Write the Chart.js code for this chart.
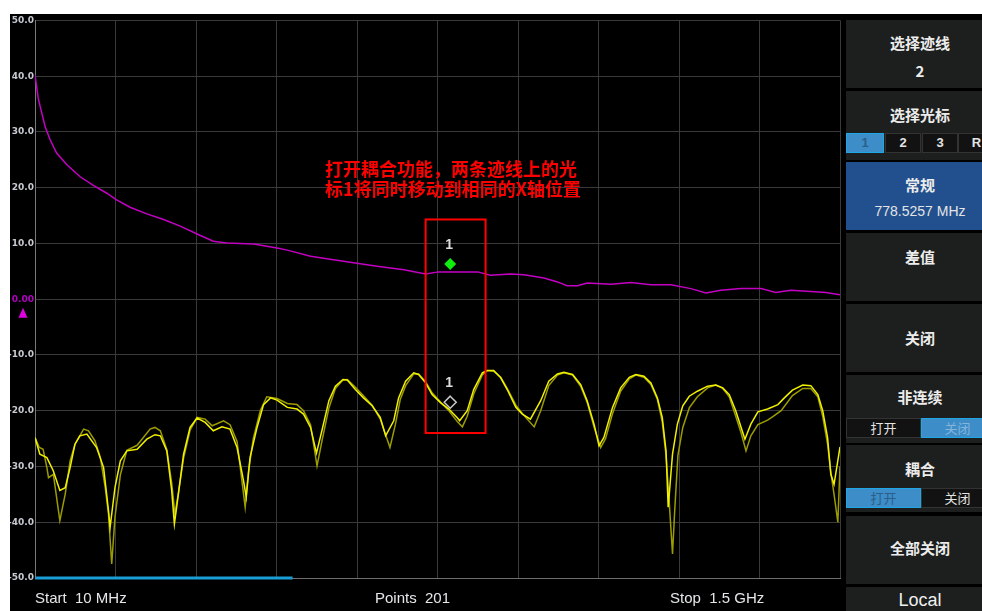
<!DOCTYPE html>
<html><head><meta charset="utf-8">
<script src="https://cdn.jsdelivr.net/npm/chart.js@4"></script>
<style>
html,body{margin:0;padding:0;background:#fff;width:982px;height:611px;overflow:hidden;font-family:"Liberation Sans",Arial,sans-serif;}
#scr{position:absolute;left:10px;top:14px;width:972px;height:597px;background:#000;overflow:hidden;}
#wrap{position:absolute;left:0;top:0;width:835px;height:597px;}
.bot{position:absolute;top:575px;height:20px;line-height:20px;color:#e4e6e8;font:15px "Liberation Sans",Arial,sans-serif;white-space:pre;}
#panel{position:absolute;left:836px;top:0;width:148px;height:597px;background:#000;}
.b{position:absolute;left:0;width:148px;background:#1c1f1e;}
.b.blue{background:#22508e;}
.t{position:absolute;left:0;width:148px;text-align:center;color:#ececec;font:bold 15px "Noto Sans CJK SC",sans-serif;line-height:20px;height:20px;}
.v{font:14px "Liberation Sans",Arial,sans-serif;font-weight:normal;color:#e4e4e4;}
.tab{position:absolute;box-sizing:border-box;height:20px;border:1px solid #333;background:#121212;color:#e4e4e4;font:13px "Noto Sans CJK SC",sans-serif;line-height:18px;text-align:center;}
.tab.num{font:bold 13px "Liberation Sans",Arial,sans-serif;line-height:18px;}
.tab.on{background:#3d8dc8;border-color:#1fa6e6;color:#2b5f8a;}
</style></head>
<body>
<div id="scr">
  <div id="wrap"><canvas id="c" width="835" height="597"></canvas></div>
  <div class="bot" id="bStart" style="left:25px"></div>
  <div class="bot" id="bPts" style="left:365px"></div>
  <div class="bot" id="bStop" style="left:660px"></div>
  <div id="panel">
    <div class="b" style="top:6px;height:68px">
      <div class="t" style="top:13px">选择迹线</div>
      <div class="t" style="top:41px">2</div>
    </div>
    <div class="b" style="top:77px;height:69px">
      <div class="t" style="top:14px">选择光标</div>
      <div class="tab num on" style="left:0;top:42px;width:38px">1</div>
      <div class="tab num" style="left:39px;top:42px;width:36px">2</div>
      <div class="tab num" style="left:76px;top:42px;width:36px">3</div>
      <div class="tab num" style="left:112px;top:42px;width:37px">R</div>
    </div>
    <div class="b blue" style="top:148px;height:68px">
      <div class="t" style="top:13px">常规</div>
      <div class="t v" style="top:41px" id="mkFreq"></div>
    </div>
    <div class="b" style="top:219px;height:68px">
      <div class="t" style="top:14px">差值</div>
    </div>
    <div class="b" style="top:290px;height:68px">
      <div class="t" style="top:24px">关闭</div>
    </div>
    <div class="b" style="top:361px;height:68px">
      <div class="t" style="top:12px">非连续</div>
      <div class="tab" style="left:0;top:43px;width:75px">打开</div>
      <div class="tab on" style="left:75px;top:43px;width:73px;color:#86b4da">关闭</div>
    </div>
    <div class="b" style="top:431px;height:67px">
      <div class="t" style="top:14px">耦合</div>
      <div class="tab on" style="left:0;top:43px;width:75px">打开</div>
      <div class="tab" style="left:75px;top:43px;width:73px">关闭</div>
    </div>
    <div class="b" style="top:502px;height:68px">
      <div class="t" style="top:22px">全部关闭</div>
    </div>
    <div class="b" style="top:573px;height:24px">
      <div class="t" style="top:3px;font:18px 'Liberation Sans',Arial,sans-serif;color:#f0f0f0">Local</div>
    </div>
  </div>
</div>
<script>
// ---- data ----
const startMHz = 10;
const stopMHz = 1500;
const sweepPoints = 201;
const sweptPoints = 64;
const refLevel = 0;
const yTickValues = [50, 40, 30, 20, 10, 0, -10, -20, -30, -40, -50];

// trace 1 (magenta)
const trc1Freq = [10,16,22,29,38,50,69,93,118,143,161,186,217,248,279,310,340,365,415,458,477,520,581,643,693,733,757,829,853,890,915,952,977,995,1014,1032,1076,1113,1150,1187,1224,1252,1279,1317,1354,1381,1409,1446,1474,1500];
const trc1Val  = [40.2,36.0,33.6,30.9,28.6,26.2,24.1,22.0,20.4,19.0,17.8,16.5,15.3,14.3,13.1,11.7,10.4,10.1,9.9,9.2,8.8,7.7,6.8,5.9,5.3,4.5,4.9,4.9,4.3,4.5,4.4,3.8,3.1,2.4,2.4,2.9,2.7,3.0,2.6,2.6,1.9,1.1,1.6,1.9,1.9,1.2,1.6,1.4,1.2,0.8];

// trace 2 (yellow, live)
const trc2Freq = [10,19,32,44,56,66,75,84,93,106,124,137,146,149,158,168,180,199,217,232,242,254,263,268,273,285,297,310,325,340,356,371,384,396,401,408,421,433,446,458,477,495,507,520,531,541,554,566,580,588,603,618,634,649,659,674,683,696,711,720,733,745,761,776,792,796,810,822,838,847,859,872,884,900,912,927,946,961,977,989,1005,1020,1032,1045,1054,1063,1079,1094,1110,1122,1137,1150,1162,1171,1178,1182,1190,1199,1209,1221,1236,1255,1270,1283,1295,1307,1317,1324,1335,1348,1366,1385,1397,1412,1431,1446,1459,1468,1477,1483,1489,1500];
const trc2Val  = [-24.8,-27.8,-28.4,-30.8,-34.3,-33.8,-30.2,-26.0,-24.5,-24.2,-26.6,-30.2,-37.9,-40.9,-33.8,-29.0,-27.2,-26.9,-25.1,-24.3,-24.5,-27.2,-34.3,-40.3,-36.7,-27.8,-23.0,-21.3,-22.1,-23.6,-22.9,-23.3,-26.6,-32.6,-35.5,-28.4,-23.0,-18.9,-17.7,-18.1,-19.4,-19.7,-20.6,-23.0,-27.6,-23.6,-18.2,-15.6,-14.4,-14.5,-16.2,-17.7,-19.1,-21.2,-24.5,-21.8,-17.7,-14.7,-13.2,-13.5,-15.0,-17.1,-18.6,-19.7,-21.3,-21.8,-20.0,-16.2,-13.2,-12.8,-12.8,-14.1,-16.2,-19.4,-20.6,-21.5,-18.2,-14.7,-13.4,-13.1,-13.5,-15.3,-18.2,-22.5,-26.3,-24.8,-19.4,-15.9,-14.0,-13.5,-13.8,-15.0,-17.7,-21.2,-27.2,-37.3,-27.8,-22.4,-19.1,-17.4,-16.5,-15.6,-15.4,-15.9,-17.1,-20.0,-23.0,-25.1,-22.4,-20.2,-19.7,-18.9,-17.7,-16.3,-15.4,-15.5,-17.1,-20.0,-24.8,-31.4,-33.2,-26.5];

// trace 2 memory (dark yellow)
const memFreq = [10,18,25,32,35,44,56,66,75,84,100,109,121,131,140,146,152,158,168,180,199,223,232,242,254,263,269,275,285,297,310,325,338,359,371,384,399,405,414,427,439,458,477,495,507,520,532,541,554,566,580,588,603,618,634,649,667,677,686,696,711,720,733,745,761,776,792,801,810,822,838,847,859,872,884,900,912,934,946,961,977,989,1005,1020,1032,1045,1057,1066,1079,1094,1110,1122,1137,1150,1162,1171,1178,1183,1190,1194,1200,1209,1221,1236,1255,1270,1283,1295,1307,1317,1326,1335,1348,1366,1375,1391,1412,1431,1446,1459,1468,1477,1483,1489,1496,1500];
const memVal  = [-24.8,-26.6,-26.9,-30.2,-32.0,-31.4,-39.7,-34.9,-29.0,-26.0,-23.3,-23.6,-25.4,-28.4,-33.8,-38.5,-47.5,-39.1,-31.5,-27.1,-26.2,-23.3,-23.0,-23.6,-27.0,-33.0,-38.5,-35.0,-28.5,-23.5,-21.2,-21.5,-22.7,-21.8,-22.5,-25.5,-37.3,-31.0,-25.0,-20.0,-17.5,-17.8,-18.7,-18.9,-20.0,-22.5,-29.9,-25.5,-19.5,-16.0,-14.5,-14.4,-15.8,-17.3,-19.0,-21.5,-26.6,-22.5,-18.0,-15.5,-13.4,-13.4,-14.8,-16.8,-18.5,-20.0,-22.0,-22.9,-21.0,-17.0,-13.6,-12.8,-12.9,-14.0,-16.0,-19.0,-20.5,-22.9,-20.0,-15.5,-13.6,-13.2,-13.6,-15.6,-18.5,-23.0,-26.6,-25.0,-20.5,-16.5,-14.3,-13.6,-14.0,-15.3,-18.0,-22.0,-28.0,-35.0,-45.7,-38.0,-28.0,-23.0,-19.5,-17.5,-15.9,-15.4,-16.0,-17.5,-21.0,-24.0,-27.2,-24.5,-22.5,-21.7,-21.1,-20.0,-17.3,-16.0,-16.0,-17.5,-21.0,-26.0,-31.0,-35.0,-40.0,-30.0];

// coupled marker 1
const markerFreq = 778.5257;
const markerVals = [4.9, -19.9];
const markerLabels = ['1', '1'];

// annotation
const noteLines = ['打开耦合功能，两条迹线上的光', '标1将同时移动到相同的X轴位置'];

// ---- page texts ----
document.getElementById('bStart').textContent = 'Start  ' + startMHz + ' MHz';
document.getElementById('bPts').textContent = 'Points  ' + sweepPoints;
document.getElementById('bStop').textContent = 'Stop  ' + (stopMHz / 1000) + ' GHz';
document.getElementById('mkFreq').textContent = markerFreq.toFixed(4) + ' MHz';

const toPts = (f, v) => f.map((x, i) => ({x: x, y: v[i]}));

const overlay = {
  id: 'overlay',
  afterDatasetsDraw(chart) {
    const ctx = chart.ctx, a = chart.chartArea;
    const xs = chart.scales.x, ys = chart.scales.y;
    ctx.save();
    // sweep progress bar
    ctx.strokeStyle = '#1a9ed6';
    ctx.lineWidth = 3;
    ctx.beginPath();
    ctx.moveTo(a.left, a.bottom);
    ctx.lineTo(a.left + (a.right - a.left) * sweptPoints / (sweepPoints - 1), a.bottom);
    ctx.stroke();
    // reference level triangle
    const ry = ys.getPixelForValue(refLevel);
    ctx.fillStyle = '#e000e0';
    ctx.beginPath();
    ctx.moveTo(a.left - 12, ry + 8.5);
    ctx.lineTo(a.left - 16.5, ry + 18.5);
    ctx.lineTo(a.left - 7.5, ry + 18.5);
    ctx.closePath();
    ctx.fill();
    // annotation text
    ctx.fillStyle = '#ff0000';
    ctx.font = 'bold 18px "Noto Sans CJK SC"';
    ctx.textAlign = 'left';
    ctx.textBaseline = 'middle';
    const tx = xs.getPixelForValue(547), ty = ys.getPixelForValue(23.3);
    noteLines.forEach((l, i) => ctx.fillText(l, tx, ty + i * 20));
    // annotation box
    ctx.strokeStyle = '#ff0000';
    ctx.lineWidth = 2;
    const x0 = xs.getPixelForValue(733), x1 = xs.getPixelForValue(844);
    const y0 = ys.getPixelForValue(14.3), y1 = ys.getPixelForValue(-24.0);
    ctx.strokeRect(x0, y0, x1 - x0, y1 - y0);
    // markers
    const mx = xs.getPixelForValue(markerFreq);
    markerVals.forEach((v, i) => {
      const cy = ys.getPixelForValue(v) - 8;
      ctx.beginPath();
      ctx.moveTo(mx, cy - 6); ctx.lineTo(mx + 6, cy); ctx.lineTo(mx, cy + 6); ctx.lineTo(mx - 6, cy); ctx.closePath();
      if (i === 0) { ctx.fillStyle = '#10ee10'; ctx.fill(); }
      else { ctx.strokeStyle = '#c8c8c8'; ctx.lineWidth = 1.5; ctx.stroke(); }
      ctx.fillStyle = '#dcdcdc';
      ctx.font = 'bold 14px "Liberation Sans"';
      ctx.textAlign = 'center';
      ctx.textBaseline = 'middle';
      ctx.fillText(markerLabels[i], mx - 1, cy - 19);
    });
    ctx.restore();
  }
};

new Chart(document.getElementById('c'), {
  type: 'line',
  data: {
    datasets: [
      {data: toPts(trc1Freq, trc1Val), borderColor: '#c400c4', borderWidth: 1.5, pointRadius: 0, tension: 0},
      {data: toPts(trc2Freq, trc2Val), borderColor: '#f0f000', borderWidth: 1.5, pointRadius: 0, tension: 0},
      {data: toPts(memFreq, memVal), borderColor: '#9c9c00', borderWidth: 1.5, pointRadius: 0, tension: 0}
    ]
  },
  options: {
    responsive: false,
    animation: false,
    devicePixelRatio: 1,
    layout: {padding: {left: 0, top: 5, right: 5, bottom: 33}},
    plugins: {legend: {display: false}, tooltip: {enabled: false}},
    scales: {
      x: {
        type: 'linear', min: startMHz, max: stopMHz,
        afterBuildTicks: s => { s.ticks = Array.from({length: 11}, (_, i) => ({value: startMHz + (stopMHz - startMHz) * i / 10})); },
        ticks: {display: false},
        grid: {color: '#3a3a3a', lineWidth: 1, drawTicks: false},
        border: {color: '#6e6e6e', width: 1}
      },
      y: {
        min: -50, max: 50,
        afterBuildTicks: s => { s.ticks = yTickValues.map(v => ({value: v})); },
        afterFit: s => { s.width = 25; },
        ticks: {
          padding: 1,
          color: c => c.tick.value === 0 ? '#b400c4' : '#c6cad0',
          font: {family: 'DejaVu Sans', weight: 'bold', size: 9},
          callback: v => v === 0 ? '0.00' : v.toFixed(1)
        },
        grid: {color: '#3a3a3a', lineWidth: 1, drawTicks: false},
        border: {color: '#7a7a7a', width: 1}
      }
    }
  },
  plugins: [overlay]
});
</script>
</body></html>
